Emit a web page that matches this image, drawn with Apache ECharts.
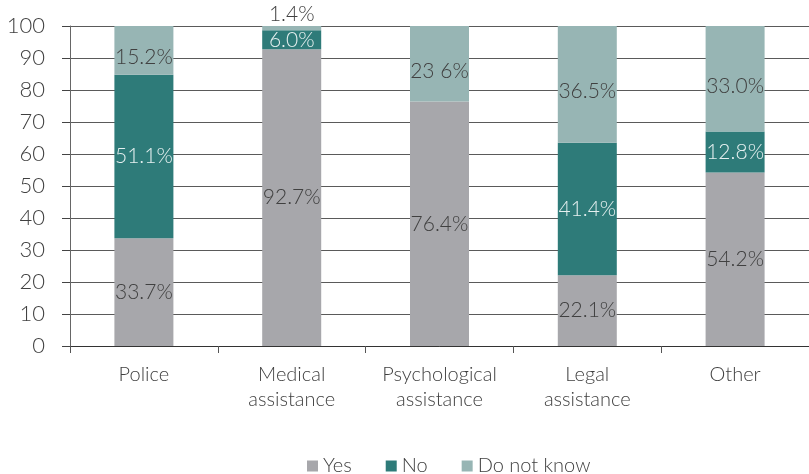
<!DOCTYPE html>
<html>
<head>
<meta charset="utf-8">
<script src="https://cdn.jsdelivr.net/npm/echarts@6/dist/echarts.min.js"></script>
<style>html,body{margin:0;padding:0;background:#fff}#c{width:809px;height:474px}</style>
</head>
<body>
<div id="c"></div>
<script>
const categories = ['Police', 'Medical\nassistance', 'Psychological\nassistance', 'Legal\nassistance', 'Other'];
const yesValues = [33.7, 92.7, 76.4, 22.1, 54.2];
const noValues = [51.1, 6.0, 0, 41.4, 12.8];
const dnkValues = [15.2, 1.4, 23.6, 36.5, 33.0];
const dnkLabels = ['15.2%', '1.4%', '23 6%', '36.5%', '33.0%'];
const yTicks = [0, 10, 20, 30, 40, 50, 60, 70, 80, 90, 100];

const FONT = 'Lato';
const chart = echarts.init(document.getElementById('c'), null, {renderer: 'canvas'});
const lbl = (color) => ({
  show: true, position: 'inside', color: color, fontFamily: FONT, fontWeight: 300, fontSize: 21
});
chart.setOption({
  animation: false,
  grid: {left: 70, right: 0, top: 26, bottom: 128, containLabel: false},
  legend: {
    top: 451, left: 302, itemWidth: 11, itemHeight: 11, itemGap: 34, icon: 'rect',
    textStyle: {fontFamily: FONT, fontWeight: 300, fontSize: 20, color: '#404040'},
    data: ['Yes', 'No', 'Do not know']
  },
  xAxis: {
    type: 'category', data: categories,
    axisLine: {lineStyle: {color: '#333', width: 1}},
    axisTick: {show: true, length: 7, lineStyle: {color: '#555'}},
    axisLabel: {interval: 0, fontFamily: FONT, fontWeight: 300, fontSize: 20, color: '#404040', lineHeight: 25, margin: 16}
  },
  yAxis: {
    type: 'value', min: 0, max: 100, interval: 10,
    axisLine: {show: true, lineStyle: {color: '#666', width: 1}},
    axisTick: {show: true, length: 8, lineStyle: {color: '#444'}},
    splitLine: {lineStyle: {color: '#5a5a5a', width: 1}},
    axisLabel: {fontFamily: FONT, fontWeight: 300, fontSize: 22, color: '#404040', margin: 25,
      formatter: (v) => yTicks.includes(v) ? String(v) : ''}
  },
  series: [
    {name: 'Yes', type: 'bar', stack: 'a', barWidth: 59, data: yesValues,
      itemStyle: {color: '#a7a7ab'},
      label: Object.assign(lbl('#404040'), {formatter: (p) => p.value.toFixed(1) + '%'})},
    {name: 'No', type: 'bar', stack: 'a', barWidth: 59, data: noValues,
      itemStyle: {color: '#2e7b79'},
      label: Object.assign(lbl('#e6f0f0'), {formatter: (p) => p.value ? p.value.toFixed(1) + '%' : ''})},
    {name: 'Do not know', type: 'bar', stack: 'a', barWidth: 59,
      data: dnkValues.map((v, i) => i === 1 ? {value: v, label: {position: 'top', offset: [0, 4]}} : v),
      itemStyle: {color: '#97b5b4'},
      label: Object.assign(lbl('#404040'), {offset: [0, 7], formatter: (p) => dnkLabels[p.dataIndex]})}
  ]
});
</script>
</body>
</html>
